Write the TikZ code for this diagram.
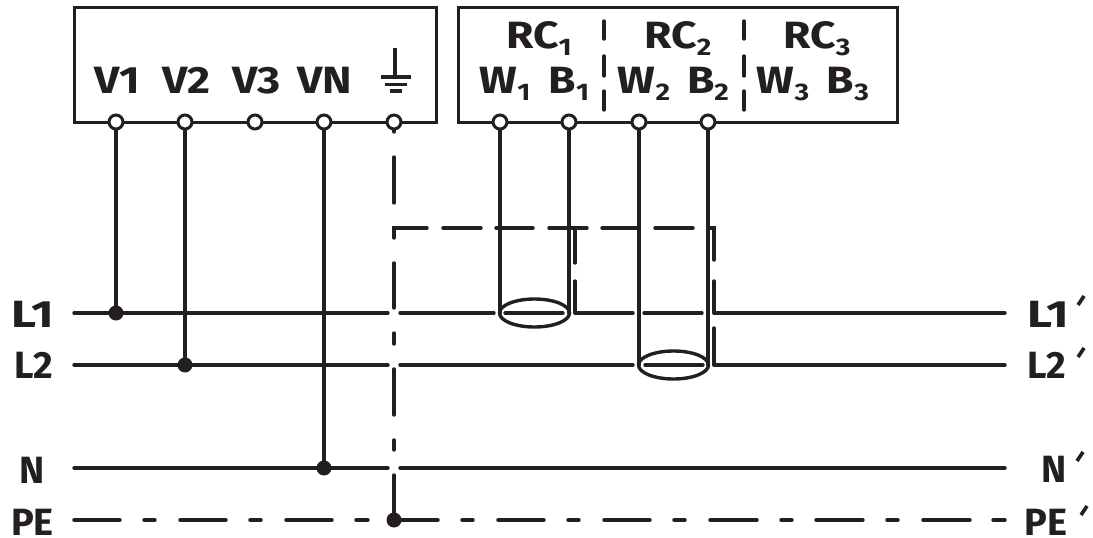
\documentclass[tikz,border=0pt]{standalone}
\usepackage{fontspec}
\setmainfont{Fira Sans}[BoldFeatures={FakeStretch=1.17}]
\newfontfamily\sidefam{Fira Sans}
\tikzset{
  x=1pt,y=-1pt,
  wire/.style={line width=3.4pt,draw=ink,line cap=round},
  boxline/.style={line width=3pt,draw=ink,line join=miter},
  term/.style={circle,draw=ink,fill=white,line width=3pt,minimum size=14pt,inner sep=0pt},
  dot/.style={circle,fill=ink,minimum size=15pt,inner sep=0pt},
  lab/.style={text=ink,inner sep=0pt,anchor=base,font=\bfseries\fontsize{38}{42}\selectfont},
  sidelab/.style={lab,font=\sidefam\bfseries\fontsize{38}{42}\selectfont},
  tick/.style={line width=3.6pt,draw=ink}
}
\definecolor{ink}{HTML}{231F20}
\newcommand{\sbs}[1]{\raisebox{-7.5pt}{\fontsize{24}{28}\selectfont #1}}
\begin{document}
\begin{tikzpicture}
\useasboundingbox (0,0) rectangle (1093,538);
\draw[boxline] (74,7) rectangle (436,122);
\draw[boxline] (458,7) rectangle (897,122);
% wires
\coordinate (c1) at (116,313);\coordinate (c2) at (185,365);\coordinate (c3) at (324,468);\coordinate (c4) at (394,520);
\draw[wire] (394,122)--(394,132);
\foreach \n/\x in {a/116,b/185,c/255,d/324,e/394,f/500,g/569,h/639,i/708}{\node[term] (\n) at (\x,122) {};}
\draw[wire] (a) -- (c1);
\draw[wire] (b) -- (c2);
\draw[wire] (d) -- (c3);
\draw[wire] (f) -- (500,313);
\draw[wire] (g) -- (569,313);
\draw[wire] (h) -- (639,365);
\draw[wire] (i) -- (708,365);
\node[dot] at (c1) {};\node[dot] at (c2) {};\node[dot] at (c3) {};\node[dot] at (c4) {};
% L1
\draw[wire] (74,313)--(388,313) (400,313)--(494,313) (505,313)--(563,313) (575,313)--(633,313) (644,313)--(702,313) (714,313)--(1005,313);
% L2
\draw[wire] (74,365)--(388,365) (400,365)--(633,365) (645,365)--(703,365) (714,365)--(1005,365);
% N
\draw[wire] (74,468)--(388,468) (400,468)--(1005,468);
% PE
\draw[wire] (74,520)--(120,520) (144,520)--(155,520) (180,520)--(226,520) (250,520)--(261,520) (286,520)--(332,520) (356,520)--(368,520) (c4)--(438,520)
 (462,520)--(473,520) (498,520)--(544,520) (568,520)--(579,520) (604,520)--(650,520) (674,520)--(685,520) (710,520)--(757,520) (781,520)--(792,520) (816,520)--(863,520) (887,520)--(898,520) (923,520)--(970,520) (993,520)--(1005,520);
% shield
\draw[wire] (394,238)--(394,228)--(427,228) (443,228)--(481,228) (496,228)--(533,228) (549,228)--(587,228) (602,228)--(638,228) (655,228)--(693,228) (708,228)--(714,228)--(714,260) (714,281)--(714,313) (714,328)--(714,365);
\draw[wire] (575,228)--(575,263) (575,281)--(575,313);
\draw[wire] (394,157)--(394,203) (394,263)--(394,308) (394,333)--(394,344) (394,369)--(394,415) (394,440)--(394,450) (394,475)--(c4);
% ellipses
\draw[wire] (534.5,313) ellipse [x radius=35,y radius=14];
\draw[wire] (673.5,365) ellipse [x radius=35,y radius=14];
% ground
\draw[wire,line cap=butt] (395,48)--(395,77) (381,77)--(411,77) (385,84.5)--(407,84.5) (390,91)--(402,91);
% dividers
\draw[wire] (604,21)--(604,39) (604,56)--(604,76) (604,91)--(604,110) (744,21)--(744,39) (744,56)--(744,76) (744,91)--(744,110);
% labels
\node[lab] at (117.5,93) {V1};
\node[lab] at (186.5,93) {V2};
\node[lab] at (256.5,93) {V3};
\node[lab] at (325,93) {VN};
\node[lab] at (539,48) {RC\sbs{1}};
\node[lab] at (678,48) {RC\sbs{2}};
\node[lab] at (817,48) {RC\sbs{3}};
\node[lab] at (505,93) {W\sbs{1}};
\node[lab] at (569,93) {B\sbs{1}};
\node[lab] at (644,93) {W\sbs{2}};
\node[lab] at (708,93) {B\sbs{2}};
\node[lab] at (783,93) {W\sbs{3}};
\node[lab] at (848,93) {B\sbs{3}};
\node[lab,anchor=base east] at (54,327) {\scalebox{1.1}[1]{L1}};
\node[sidelab,anchor=base east] at (53,378) {L2};
\node[sidelab,anchor=base east] at (45,483) {N};
\node[sidelab,anchor=base east] at (54,535) {PE};
\node[lab,anchor=base west] at (1027,327) {\scalebox{1.1}[1]{L1}};
\node[sidelab,anchor=base west] at (1027,378) {L2};
\node[sidelab,anchor=base east] at (1067,482) {N};
\node[sidelab,anchor=base west] at (1024,535) {PE};
\coordinate (p1) at (1078,305);\coordinate (p2) at (1078,357);\coordinate (p3) at (1077,461);\coordinate (p4) at (1081,515);
\foreach \p in {p1,p2,p3,p4}{\draw[tick] (\p)--++(6,-9);}
\end{tikzpicture}
\end{document}
